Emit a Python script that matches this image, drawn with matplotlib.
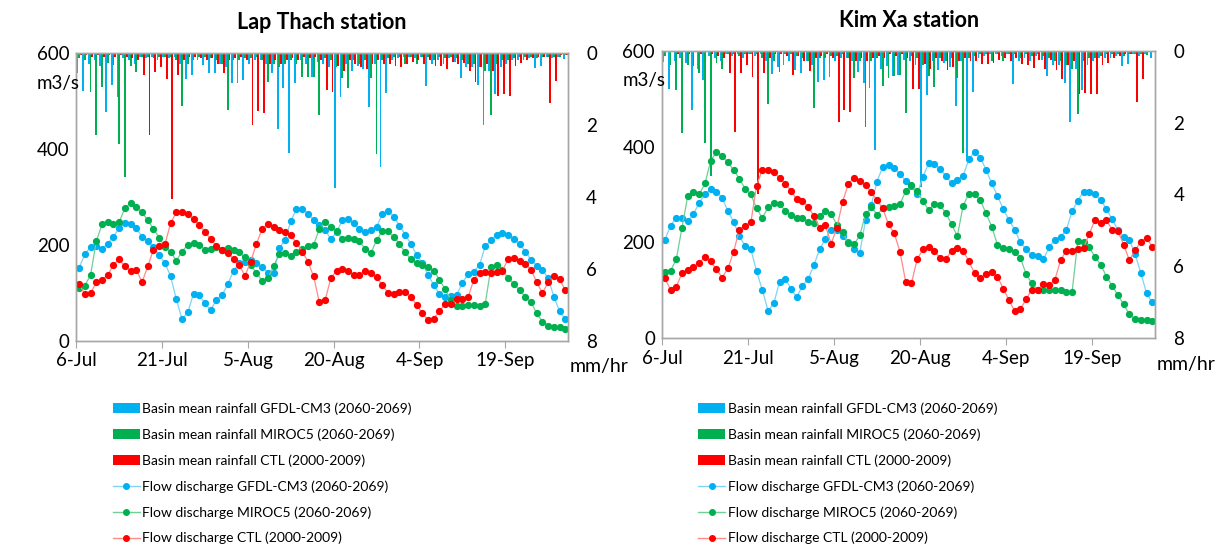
import numpy as np
import matplotlib
matplotlib.use("Agg")
import matplotlib.pyplot as plt
from matplotlib.patches import Patch
from matplotlib.lines import Line2D

plt.rcParams['font.family'] = ['Lato', 'DejaVu Sans']

# daily values 6-Jul .. 30-Sep
tick_days = [0, 15, 30, 45, 60, 75]
tick_labels = ['6-Jul', '21-Jul', '5-Aug', '20-Aug', '4-Sep', '19-Sep']

# Lap Thach - flow discharge (m3/s)
q_gfdl_lt = [151, 181, 195, 197, 192, 202, 217, 235, 245, 244, 234, 217, 207, 195, 178, 162, 134, 86, 45, 59,
             98, 95, 78, 64, 85, 95, 118, 146, 162, 165, 169, 163, 153, 142, 142, 193, 210, 249, 275, 275,
             265, 252, 242, 231, 212, 226, 251, 254, 245, 233, 227, 231, 237, 264, 270, 259, 240, 221, 202, 179,
             162, 137, 116, 98, 91, 93, 96, 120, 139, 144, 158, 197, 209, 220, 224, 220, 213, 202, 186, 169,
             156, 148, 130, 92, 61, 45]
q_miroc_lt = [109, 115, 137, 207, 243, 247, 243, 247, 277, 287, 278, 268, 251, 233, 215, 195, 185, 167, 186, 200,
              204, 200, 190, 192, 195, 190, 193, 190, 184, 174, 158, 141, 125, 130, 155, 181, 183, 177, 184, 192,
              197, 200, 233, 247, 238, 228, 212, 214, 213, 207, 192, 183, 209, 229, 228, 217, 202, 184, 170, 162,
              157, 153, 146, 127, 107, 85, 73, 73, 75, 75, 73, 77, 153, 158, 148, 130, 119, 105, 92, 80,
              57, 40, 31, 29, 28, 24]
q_ctl_lt = [118, 97, 99, 122, 127, 137, 158, 170, 155, 146, 148, 122, 155, 190, 197, 201, 245, 268, 268, 264,
            254, 242, 227, 212, 198, 190, 183, 171, 158, 135, 165, 202, 233, 243, 237, 231, 226, 220, 204, 186,
            165, 134, 80, 84, 130, 146, 150, 146, 137, 137, 146, 141, 132, 116, 100, 97, 101, 102, 92, 75,
            57, 43, 46, 61, 77, 77, 86, 86, 91, 127, 142, 143, 142, 143, 146, 170, 172, 167, 160, 148,
            122, 99, 122, 135, 128, 105]

# Lap Thach - basin mean rainfall (mm/hr)
r_gfdl_lt = [0.57, 1.05, 0.30, 0.20, 0.35, 1.63, 0.89, 1.22, 0.15, 0.20, 0.30, 0.10, 0.15, 0.10, 0.20, 0.10, 0.15, 0.10, 0.30, 0.71,
             0.61, 0.20, 0.33, 0.57, 0.57, 0.30, 0.40, 0.84, 0.83, 0.75, 0.30, 0.20, 0.20, 0.30, 0.57, 2.10, 0.98, 2.77, 0.84, 0.20,
             0.30, 0.68, 0.25, 0.30, 0.40, 3.75, 1.22, 0.30, 0.49, 0.35, 0.45, 1.50, 0.30, 3.17, 1.10, 0.20, 0.15, 0.10, 0.10, 0.15,
             0.10, 0.92, 0.30, 0.20, 0.30, 0.15, 0.25, 0.69, 0.40, 0.40, 0.89, 2.00, 0.50, 1.14, 0.40, 0.30, 0.20, 0.20, 0.20, 0.15,
             0.43, 0.35, 0.10, 0.15, 0.10, 0.18]
r_miroc_lt = [0.15, 0.20, 1.08, 2.28, 0.94, 0.29, 0.33, 2.54, 3.44, 0.36, 0.52, 0.10, 0.10, 0.15, 0.10, 0.10, 0.10, 0.20, 1.47, 0.30,
              0.20, 0.10, 0.10, 0.15, 0.20, 0.30, 1.59, 0.20, 0.20, 0.15, 0.15, 0.10, 0.20, 0.80, 0.30, 0.40, 0.30, 0.20, 0.30, 0.66,
              0.66, 0.66, 1.73, 0.15, 0.20, 0.40, 0.70, 0.98, 0.20, 0.30, 0.20, 0.70, 2.81, 0.20, 0.15, 0.10, 0.10, 0.30, 0.10, 0.30,
              0.10, 0.10, 0.20, 0.10, 0.15, 0.10, 0.15, 0.20, 0.30, 0.30, 0.40, 0.50, 1.73, 0.30, 0.20, 0.20, 0.15, 0.10, 0.10, 0.10,
              0.15, 0.10, 0.10, 0.10, 0.12, 0.05]
r_ctl_lt = [0.05, 0.05, 0.10, 0.05, 0.10, 0.05, 0.10, 0.05, 0.10, 0.15, 0.20, 0.61, 2.27, 0.52, 0.38, 0.71, 4.05, 0.61, 0.20, 0.10,
            0.10, 0.15, 0.20, 0.15, 0.30, 0.57, 0.20, 0.15, 0.10, 0.20, 1.99, 1.62, 1.68, 0.30, 0.20, 0.30, 0.20, 0.15, 0.20, 0.10,
            0.15, 0.10, 0.20, 1.03, 1.08, 0.36, 0.50, 0.20, 0.30, 0.40, 0.45, 0.30, 0.20, 0.30, 0.30, 0.35, 0.40, 0.30, 0.25, 0.20,
            0.30, 0.20, 0.36, 0.36, 0.45, 0.25, 0.30, 0.27, 0.50, 0.80, 0.40, 0.30, 0.50, 1.20, 1.14, 1.20, 0.36, 0.28, 0.20, 0.15,
            0.10, 0.10, 1.40, 0.78, 0.05, 0.05]

# Kim Xa - flow discharge (m3/s)
q_gfdl_kx = [205, 235, 252, 252, 245, 259, 283, 300, 311, 306, 293, 265, 243, 213, 193, 186, 140, 101, 58, 73,
             118, 124, 104, 86, 110, 124, 153, 186, 208, 227, 226, 213, 200, 186, 179, 247, 278, 327, 358, 361,
             356, 342, 329, 318, 301, 337, 365, 363, 353, 339, 323, 331, 339, 373, 389, 377, 352, 323, 297, 270,
             247, 227, 200, 186, 174, 172, 165, 190, 206, 212, 226, 265, 287, 306, 306, 301, 288, 270, 248, 226,
             211, 205, 176, 136, 94, 75]
q_miroc_kx = [139, 141, 165, 231, 297, 305, 300, 323, 370, 389, 381, 367, 351, 333, 312, 300, 271, 251, 273, 283,
              280, 266, 257, 251, 251, 243, 241, 256, 265, 260, 236, 222, 198, 196, 215, 259, 274, 258, 271, 273,
              276, 280, 307, 320, 307, 286, 268, 280, 278, 261, 238, 213, 276, 302, 301, 288, 261, 233, 195, 189,
              187, 181, 168, 134, 115, 102, 101, 101, 102, 102, 96, 96, 203, 200, 190, 170, 154, 129, 110, 90,
              71, 50, 40, 39, 39, 36]
q_ctl_kx = [125, 102, 108, 136, 143, 148, 158, 169, 161, 144, 127, 146, 181, 227, 235, 242, 318, 352, 352, 346,
            335, 322, 308, 290, 287, 274, 255, 231, 236, 197, 231, 285, 322, 335, 329, 320, 305, 288, 271, 238,
            219, 181, 118, 115, 165, 186, 190, 183, 167, 166, 182, 188, 183, 161, 136, 127, 134, 139, 129, 104,
            80, 57, 61, 82, 102, 102, 113, 111, 122, 163, 183, 183, 186, 188, 218, 247, 240, 246, 227, 224,
            195, 163, 184, 202, 209, 191]

# Kim Xa - basin mean rainfall (mm/hr)
r_gfdl_kx = [0.33, 1.08, 0.30, 0.20, 0.35, 1.65, 0.50, 0.82, 0.15, 0.20, 0.30, 0.10, 0.15, 0.10, 0.20, 0.10, 0.15, 0.10, 0.30, 0.66,
             0.45, 0.40, 0.30, 0.55, 0.63, 0.30, 0.40, 0.87, 0.82, 0.73, 0.30, 0.20, 0.20, 0.30, 0.59, 0.90, 1.05, 2.76, 0.50, 0.43,
             0.71, 0.68, 0.25, 0.30, 0.40, 3.78, 1.24, 0.30, 0.54, 0.35, 0.45, 1.54, 0.30, 3.00, 1.14, 0.20, 0.15, 0.10, 0.10, 0.15,
             0.10, 0.93, 0.30, 0.20, 0.30, 0.15, 0.25, 0.71, 0.40, 0.40, 0.89, 1.99, 0.50, 1.10, 0.40, 0.30, 0.20, 0.20, 0.20, 0.15,
             0.43, 0.38, 0.10, 0.15, 0.10, 0.20]
r_miroc_kx = [0.15, 0.40, 1.10, 2.28, 0.40, 0.44, 0.63, 2.58, 3.49, 0.36, 0.50, 0.10, 0.10, 0.15, 0.10, 0.10, 0.10, 0.20, 1.49, 0.30,
              0.59, 0.10, 0.10, 0.15, 0.20, 0.30, 1.61, 0.20, 0.20, 0.15, 0.15, 0.10, 0.20, 0.77, 0.30, 2.12, 0.30, 0.20, 0.99, 0.75,
              0.71, 0.68, 1.73, 0.15, 0.20, 0.40, 0.70, 1.00, 0.20, 0.30, 0.20, 0.75, 2.84, 0.20, 0.15, 0.10, 0.10, 0.30, 0.10, 0.30,
              0.10, 0.10, 0.20, 0.10, 0.15, 0.10, 0.15, 0.20, 0.30, 0.30, 0.40, 0.50, 1.76, 0.30, 0.20, 0.20, 0.15, 0.10, 0.10, 0.10,
              0.15, 0.10, 0.10, 0.10, 0.12, 0.05]
r_ctl_kx = [0.05, 0.05, 0.10, 0.05, 0.10, 0.05, 0.10, 0.05, 0.10, 0.15, 0.20, 0.63, 2.27, 0.63, 0.40, 0.73, 4.00, 0.63, 0.20, 0.10,
            0.10, 0.15, 0.68, 0.15, 0.30, 0.57, 0.20, 0.15, 0.10, 0.20, 1.98, 1.65, 1.70, 0.30, 0.20, 0.30, 0.20, 0.15, 0.20, 0.10,
            0.15, 0.10, 0.20, 1.08, 1.08, 0.38, 0.50, 0.20, 0.30, 0.55, 0.45, 0.30, 0.20, 0.30, 0.30, 0.38, 0.38, 0.36, 0.25, 0.20,
            0.30, 0.20, 0.38, 0.40, 0.48, 0.25, 0.50, 0.27, 0.55, 0.80, 0.40, 0.30, 1.20, 1.17, 1.20, 1.20, 0.40, 0.36, 0.20, 0.15,
            0.10, 0.10, 1.44, 0.80, 0.05, 0.05]

labels = ['Basin mean rainfall GFDL-CM3 (2060-2069)',
          'Basin mean rainfall MIROC5 (2060-2069)',
          'Basin mean rainfall CTL (2000-2009)',
          'Flow discharge GFDL-CM3 (2060-2069)',
          'Flow discharge MIROC5 (2060-2069)',
          'Flow discharge CTL (2000-2009)']

c_bar = ['#00b0f0', '#00b050', '#ff0000']
c_line = ['#7fd3f5', '#6fcf97', '#ff8a8a']
grey = '#a6a6a6'


def draw_panel(rect, title, q_series, r_series, leg_x):
    ax = fig.add_axes(rect)
    axr = ax.twinx()
    days = np.arange(len(q_series[0])) + 0.5

    # rainfall bars hanging from the top (inverted secondary axis)
    for k, r in enumerate(r_series):
        axr.bar(days + (k - 1) * 0.3, r, width=0.32, color=c_bar[k], linewidth=0)
    axr.set_ylim(8, 0)
    axr.set_yticks([0, 2, 4, 6, 8])
    axr.tick_params(axis='y', length=0, pad=13, labelsize=13.5)

    for k, q in enumerate(q_series):
        ax.plot(days, q, color=c_line[k], lw=0.9, marker='o', markersize=4.2,
                markerfacecolor=c_bar[k], markeredgecolor=c_bar[k])
    ax.set_zorder(axr.get_zorder() + 1)
    ax.patch.set_visible(False)

    ax.set_xlim(0, 86)
    ax.set_ylim(0, 600)
    ax.set_yticks([0, 200, 400, 600])
    ax.set_xticks(tick_days)
    ax.set_xticklabels(tick_labels)
    ax.tick_params(axis='y', length=0, pad=5, labelsize=13.5)
    ax.tick_params(axis='x', length=5, color=grey, pad=3, labelsize=13.5)
    for a in (ax, axr):
        for s in a.spines.values():
            s.set_color(grey)
            s.set_linewidth(1)

    ax.set_title(title, fontsize=15.5, fontweight='bold', pad=17)
    ax.text(-0.08, 0.895, 'm3/s', transform=ax.transAxes, fontsize=13.5, ha='left', va='center')
    ax.text(1.003, -0.09, 'mm/hr', transform=ax.transAxes, fontsize=14, ha='left', va='center')

    handles = [Patch(facecolor=c) for c in c_bar]
    handles += [Line2D([], [], color=c_line[k], lw=1, marker='o', markersize=4,
                       markerfacecolor=c_bar[k], markeredgecolor=c_bar[k]) for k in range(3)]
    fig.legend(handles, labels, loc='upper left', bbox_to_anchor=(leg_x, 0.281), frameon=False,
               fontsize=10, handlelength=1.9, handleheight=0.65, handletextpad=0.2,
               labelspacing=0.96, borderaxespad=0)


fig = plt.figure(figsize=(12.24, 5.52), dpi=100)
draw_panel([0.0623, 0.3828, 0.4019, 0.5212], 'Lap Thach station',
           [q_gfdl_lt, q_miroc_lt, q_ctl_lt], [r_gfdl_lt, r_miroc_lt, r_ctl_lt], 0.088)
draw_panel([0.5408, 0.3868, 0.4030, 0.5217], 'Kim Xa station',
           [q_gfdl_kx, q_miroc_kx, q_ctl_kx], [r_gfdl_kx, r_miroc_kx, r_ctl_kx], 0.566)

fig.savefig('out.png', dpi=100)
